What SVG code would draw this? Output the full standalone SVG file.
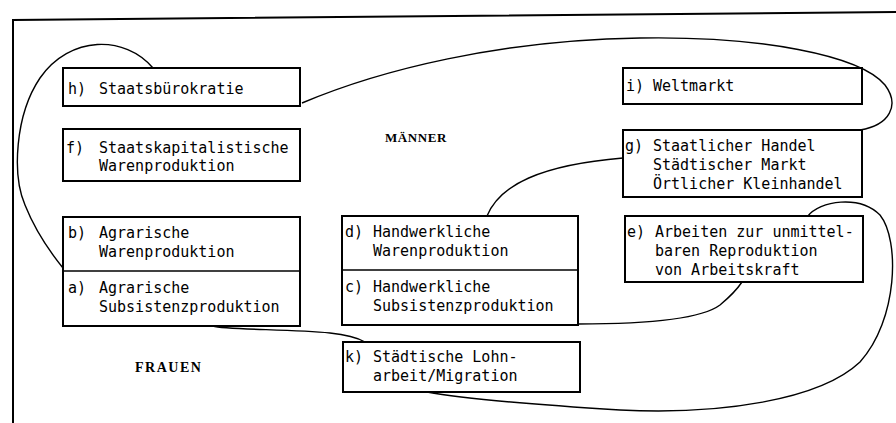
<svg xmlns="http://www.w3.org/2000/svg" width="896" height="423" viewBox="0 0 896 423">
  <style>
    .frame { fill: none; stroke: #000; stroke-width: 2; }
    .box { fill: #fff; stroke: #000; stroke-width: 2; }
    .div { fill: none; stroke: #000; stroke-width: 1.3; }
    .link { fill: none; stroke: #000; stroke-width: 1.4; }
    .t { font-family: "DejaVu Sans Mono", "Liberation Mono", monospace; font-size: 15px; fill: #000; }
    .cap { font-family: "Liberation Serif", serif; font-weight: bold; fill: #000; }
  </style>
  <rect width="896" height="423" fill="#fff"/>

  <!-- outer frame: top rule and left rule -->
  <path class="frame" d="M13,423 L13,20 L896,12"/>

  <!-- connectors -->
  <g id="connectors">
    <path class="link" d="M153,68 C125,35 70,35 40,78 C15,115 12,175 25,205 C35,230 50,252 63,268"/>
    <path class="link" d="M302,103 C380,70 500,40 640,38 C760,36 860,55 885,85 C900,105 890,125 860,130"/>
    <path class="link" d="M487,216 C500,185 540,165 623,158"/>
    <path class="link" d="M807,217 C820,200 860,195 880,215 C900,240 898,320 860,362 C820,400 720,415 620,410 C540,405 470,400 427,392"/>
    <path class="link" d="M578,324 C640,324 700,320 720,305 C732,295 738,288 742,282"/>
    <path class="link" d="M213,326 C225,330 290,329 330,333 C350,335 358,338 365,342"/>
  </g>

  <!-- region labels -->
  <text class="cap" x="385" y="142" font-size="13" letter-spacing="0.6">MÄNNER</text>
  <text class="cap" x="135" y="372" font-size="14" letter-spacing="1.5">FRAUEN</text>

  <g id="node-h">
    <rect class="box" x="63" y="68" width="237" height="38"/>
    <text class="t" x="68" y="94">h)</text>
    <text class="t" x="99" y="94">Staatsbürokratie</text>
  </g>

  <g id="node-f">
    <rect class="box" x="63" y="129" width="237" height="52"/>
    <text class="t" x="66" y="153">f)</text>
    <text class="t" x="99" y="153">Staatskapitalistische</text>
    <text class="t" x="99" y="171">Warenproduktion</text>
  </g>

  <g id="node-ba">
    <rect class="box" x="63" y="217" width="237" height="109"/>
    <line class="div" x1="63" y1="271" x2="300" y2="271"/>
    <text class="t" x="68" y="238">b)</text>
    <text class="t" x="99" y="238">Agrarische</text>
    <text class="t" x="99" y="257">Warenproduktion</text>
    <text class="t" x="68" y="293">a)</text>
    <text class="t" x="99" y="293">Agrarische</text>
    <text class="t" x="99" y="312">Subsistenzproduktion</text>
  </g>

  <g id="node-dc">
    <rect class="box" x="342" y="216" width="236" height="109"/>
    <line class="div" x1="342" y1="270" x2="578" y2="270"/>
    <text class="t" x="345" y="237">d)</text>
    <text class="t" x="373" y="237">Handwerkliche</text>
    <text class="t" x="373" y="256">Warenproduktion</text>
    <text class="t" x="345" y="292">c)</text>
    <text class="t" x="373" y="292">Handwerkliche</text>
    <text class="t" x="373" y="311">Subsistenzproduktion</text>
  </g>

  <g id="node-k">
    <rect class="box" x="343" y="342" width="237" height="50"/>
    <text class="t" x="345" y="362">k)</text>
    <text class="t" x="373" y="362">Städtische Lohn-</text>
    <text class="t" x="373" y="381">arbeit/Migration</text>
  </g>

  <g id="node-i">
    <rect class="box" x="623" y="68" width="239" height="36"/>
    <text class="t" x="626" y="91">i)</text>
    <text class="t" x="653" y="91">Weltmarkt</text>
  </g>

  <g id="node-g">
    <rect class="box" x="623" y="130" width="239" height="67"/>
    <text class="t" x="625" y="151">g)</text>
    <text class="t" x="653" y="151">Staatlicher Handel</text>
    <text class="t" x="653" y="170">Städtischer Markt</text>
    <text class="t" x="653" y="189">Örtlicher Kleinhandel</text>
  </g>

  <g id="node-e">
    <rect class="box" x="625" y="216" width="238" height="66"/>
    <text class="t" x="627" y="237">e)</text>
    <text class="t" x="655" y="237">Arbeiten zur unmittel-</text>
    <text class="t" x="655" y="256">baren Reproduktion</text>
    <text class="t" x="655" y="275">von Arbeitskraft</text>
  </g>
</svg>
